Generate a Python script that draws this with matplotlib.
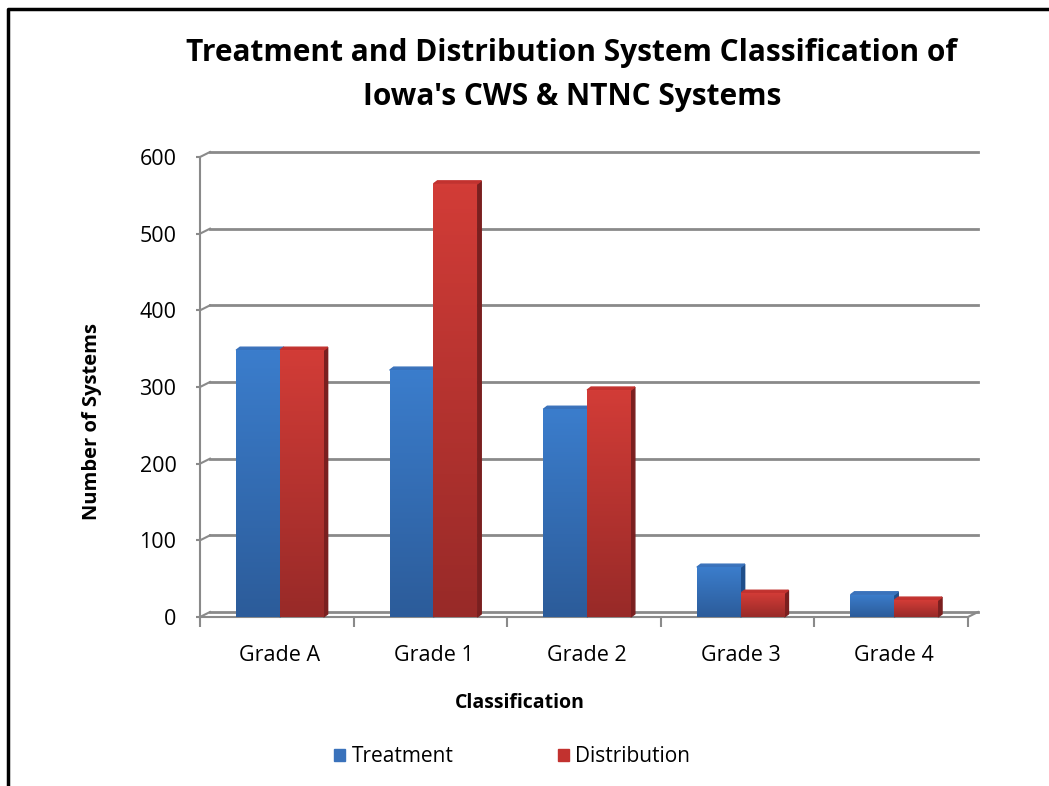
import numpy as np
import matplotlib.pyplot as plt
from matplotlib.colors import LinearSegmentedColormap
from matplotlib.patches import Polygon, Patch
from matplotlib.lines import Line2D

# dados
categorias = ["Grade A", "Grade 1", "Grade 2", "Grade 3", "Grade 4"]
tratamento = [348, 322, 271, 65, 29]
distribuicao = [348, 565, 296, 31, 22]
ticks_y = [0, 100, 200, 300, 400, 500, 600]

plt.rcParams['font.family'] = ['Open Sans', 'DejaVu Sans']

fig = plt.figure(figsize=(10.49, 7.86), dpi=100)
ax = fig.add_axes([200 / 1049, 169 / 786, 768 / 1049, 460 / 786])
ax.set_xlim(0, len(categorias))
ax.set_ylim(0, 600)

cinza = "#8a8a8a"

# converte deslocamento em pixels para unidades de dados
def desloc(px, py):
    inv = ax.transData.inverted()
    x0, y0 = inv.transform((0, 0))
    x1, y1 = inv.transform((px, py))
    return x1 - x0, y1 - y0

# parede de fundo (grade deslocada para dar profundidade)
gx, gy = desloc(10, 5)
for v in ticks_y:
    ax.plot([gx, len(categorias) + gx], [v + gy, v + gy], color=cinza, lw=2, clip_on=False, zorder=1)
    ax.plot([0, gx], [v, v + gy], color=cinza, lw=1.5, clip_on=False, zorder=1)
ax.plot([len(categorias), len(categorias) + gx], [0, gy], color=cinza, lw=1.5, clip_on=False, zorder=1)

# barras
centros = np.arange(len(categorias)) + 0.52
largura = 0.285
series = [
    (tratamento, centros - largura / 2, ["#2c5c9a", "#3b7dcc"], "#1f4e8a", "#3a72bb"),
    (distribuicao, centros + largura / 2, ["#982a28", "#d23c37"], "#7a1f1f", "#c2322f"),
]
bx, by = desloc(4, 3)
for valores, xs, grad, cor_lado, cor_topo in series:
    barras = ax.bar(xs, valores, width=largura, color=grad[1], zorder=3)
    cmap = LinearSegmentedColormap.from_list("g", grad)
    for b in barras:
        x, w, h = b.get_x(), b.get_width(), b.get_height()
        img = ax.imshow(np.linspace(0, 1, 100).reshape(-1, 1), extent=[x, x + w, 0, h],
                        origin='lower', aspect='auto', cmap=cmap, zorder=3.1)
        img.set_clip_path(b)
        ax.add_patch(Polygon([[x + w, 0], [x + w, h], [x + w + bx, h + by], [x + w + bx, by]],
                             closed=True, color=cor_lado, zorder=2.9, clip_on=False))
        ax.add_patch(Polygon([[x, h], [x + bx, h + by], [x + w + bx, h + by], [x + w, h]],
                             closed=True, color=cor_topo, zorder=2.9, clip_on=False))
ax.set_xlim(0, len(categorias))
ax.set_ylim(0, 600)

# eixos
for lado in ["top", "right"]:
    ax.spines[lado].set_visible(False)
for lado in ["left", "bottom"]:
    ax.spines[lado].set_color(cinza)
    ax.spines[lado].set_linewidth(1.5)
ax.set_yticks(ticks_y)
ax.tick_params(axis='y', length=3, width=1.5, color=cinza, pad=14, labelsize=15.5)
ax.set_xticks(np.arange(len(categorias) + 1))
ax.set_xticklabels([])
ax.tick_params(axis='x', which='major', length=7, width=1.5, color=cinza)
ax.set_xticks(centros, minor=True)
ax.set_xticklabels(categorias, minor=True, fontsize=15.5)
ax.tick_params(axis='x', which='minor', length=0, pad=20)

ax.set_ylabel("Number of Systems", fontsize=14.5, fontweight='bold')
ax.yaxis.set_label_coords(-0.127, 0.425)
ax.set_xlabel("Classification", fontsize=14, fontweight='bold')
ax.xaxis.set_label_coords(0.417, -0.165)

fig.text(572 / 1049, 1 - 75 / 786,
         "Treatment and Distribution System Classification of\nIowa's CWS & NTNC Systems",
         ha='center', va='center', fontsize=21.5, fontweight='bold', linespacing=1.65)

handles = [Patch(color="#3a72bb", label="Treatment"), Patch(color="#c2322f", label="Distribution")]
fig.legend(handles=handles, loc='center', bbox_to_anchor=(512 / 1049, 1 - 757 / 786), ncol=2,
           frameon=False, fontsize=15, handlelength=0.55, handleheight=0.55, handletextpad=0.3,
           columnspacing=5.0)

# moldura (só topo e esquerda visíveis)
fig.add_artist(Line2D([8 / 1049, 8 / 1049, 1], [0, 1 - 9 / 786, 1 - 9 / 786],
                      transform=fig.transFigure, color='black', lw=2.5))

fig.savefig("out.png", dpi=100)
